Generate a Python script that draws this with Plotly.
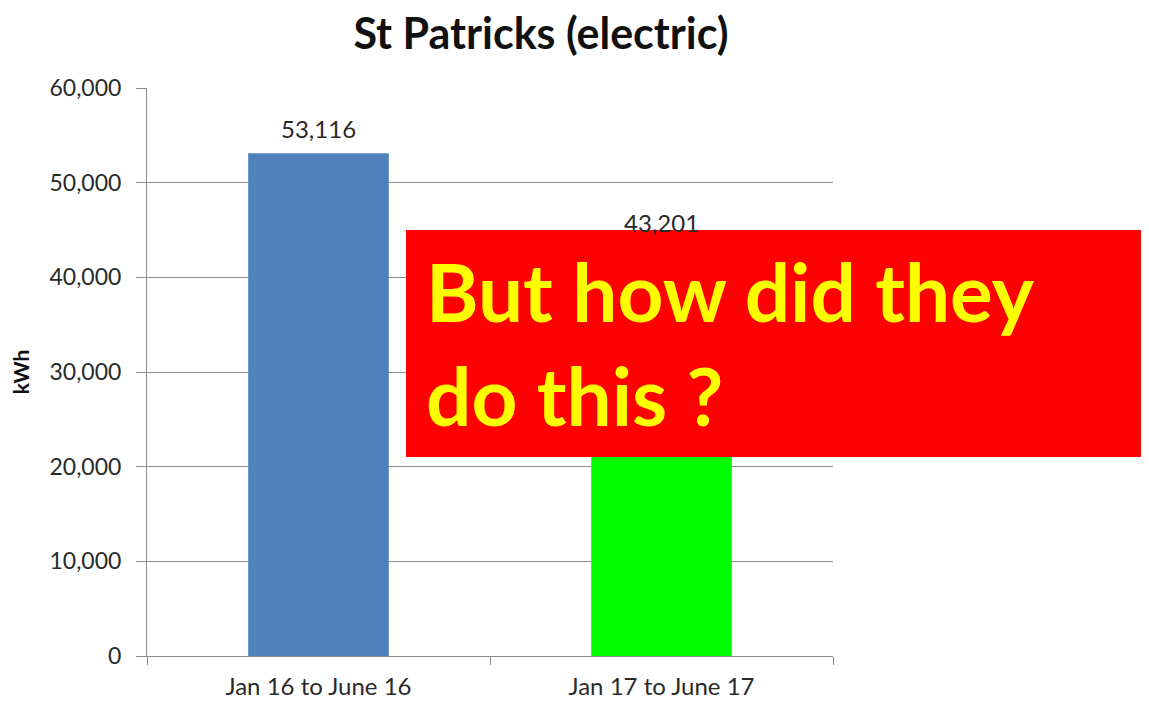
import plotly.graph_objects as go

categories = ["Jan 16 to June 16", "Jan 17 to June 17"]
values = [53116, 43201]
bar_colors = ["#4F81BD", "#00FF00"]
title_text = "St Patricks (electric)"
y_title = "kWh"
overlay_text = "But how did they<br>do this ?"

OFF = 8  # page body margin
W, H = 1149 - OFF, 702 - OFF
# plot area in screen pixels
SL, SR, ST, SB = 147, 833, 88, 656
L, T = SL - OFF, ST - OFF
R = W - (SR - OFF)
B = H - (SB - OFF)
pw, ph = W - L - R, H - T - B

def px_x(x):
    return (x - SL) / pw

def px_y(y):
    return (SB - y) / ph

fig = go.Figure()
fig.add_trace(go.Bar(
    x=categories, y=values,
    marker=dict(color=bar_colors, line=dict(width=0)),
    width=0.41,
    hoverinfo="x+y",
))

for c, v in zip(categories, values):
    fig.add_annotation(x=c, y=v, text=f"{v:,}", showarrow=False,
                       yanchor="middle", yshift=25,
                       font=dict(family="Lato", size=24, color="#2a2a2a"))

fig.update_layout(
    width=W, height=H,
    margin=dict(l=L, r=R, t=T, b=B, pad=0, autoexpand=False),
    paper_bgcolor="white", plot_bgcolor="white",
    showlegend=False,
    title=dict(text=title_text, x=(541 - OFF) / W, xanchor="center",
               y=1 - (34 - OFF) / H, yanchor="middle",
               font=dict(family="Lato", size=43, color="#111111", weight="bold")),
    xaxis=dict(
        automargin=False,
        showline=True, linecolor="#8C8C8C", linewidth=1,
        ticks="outside", ticklen=8, tickcolor="#8C8C8C", tickson="boundaries",
        tickfont=dict(family="Lato", size=24, color="#2a2a2a"),
        ticklabelstandoff=9,
        showgrid=False,
    ),
    yaxis=dict(
        automargin=False,
        range=[0, 60000], dtick=10000, tickformat=",",
        showline=True, linecolor="#8C8C8C", linewidth=1,
        ticks="outside", ticklen=10, tickcolor="#8C8C8C",
        showgrid=True, gridcolor="#8C8C8C", gridwidth=1,
        tickfont=dict(family="Lato", size=23, color="#2a2a2a"),
        ticklabelstandoff=10,
        title=dict(text=y_title, font=dict(family="Lato", size=21, color="#111111", weight="bold"), standoff=15),
        zeroline=False,
    ),
)

# red overlay box (runs to the right edge of the figure)
fig.add_shape(type="rect", xref="paper", yref="paper",
              x0=px_x(406), x1=px_x(1149), y0=px_y(457), y1=px_y(230),
              fillcolor="#FF0000", line=dict(width=0), layer="above")
fig.add_annotation(xref="paper", yref="paper", x=px_x(424), y=px_y(343),
                   xanchor="left", yanchor="middle", align="left",
                   text=overlay_text, showarrow=False,
                   font=dict(family="Lato", size=80, color="#FFFF00", weight="bold"))

fig.write_html("out.html")
